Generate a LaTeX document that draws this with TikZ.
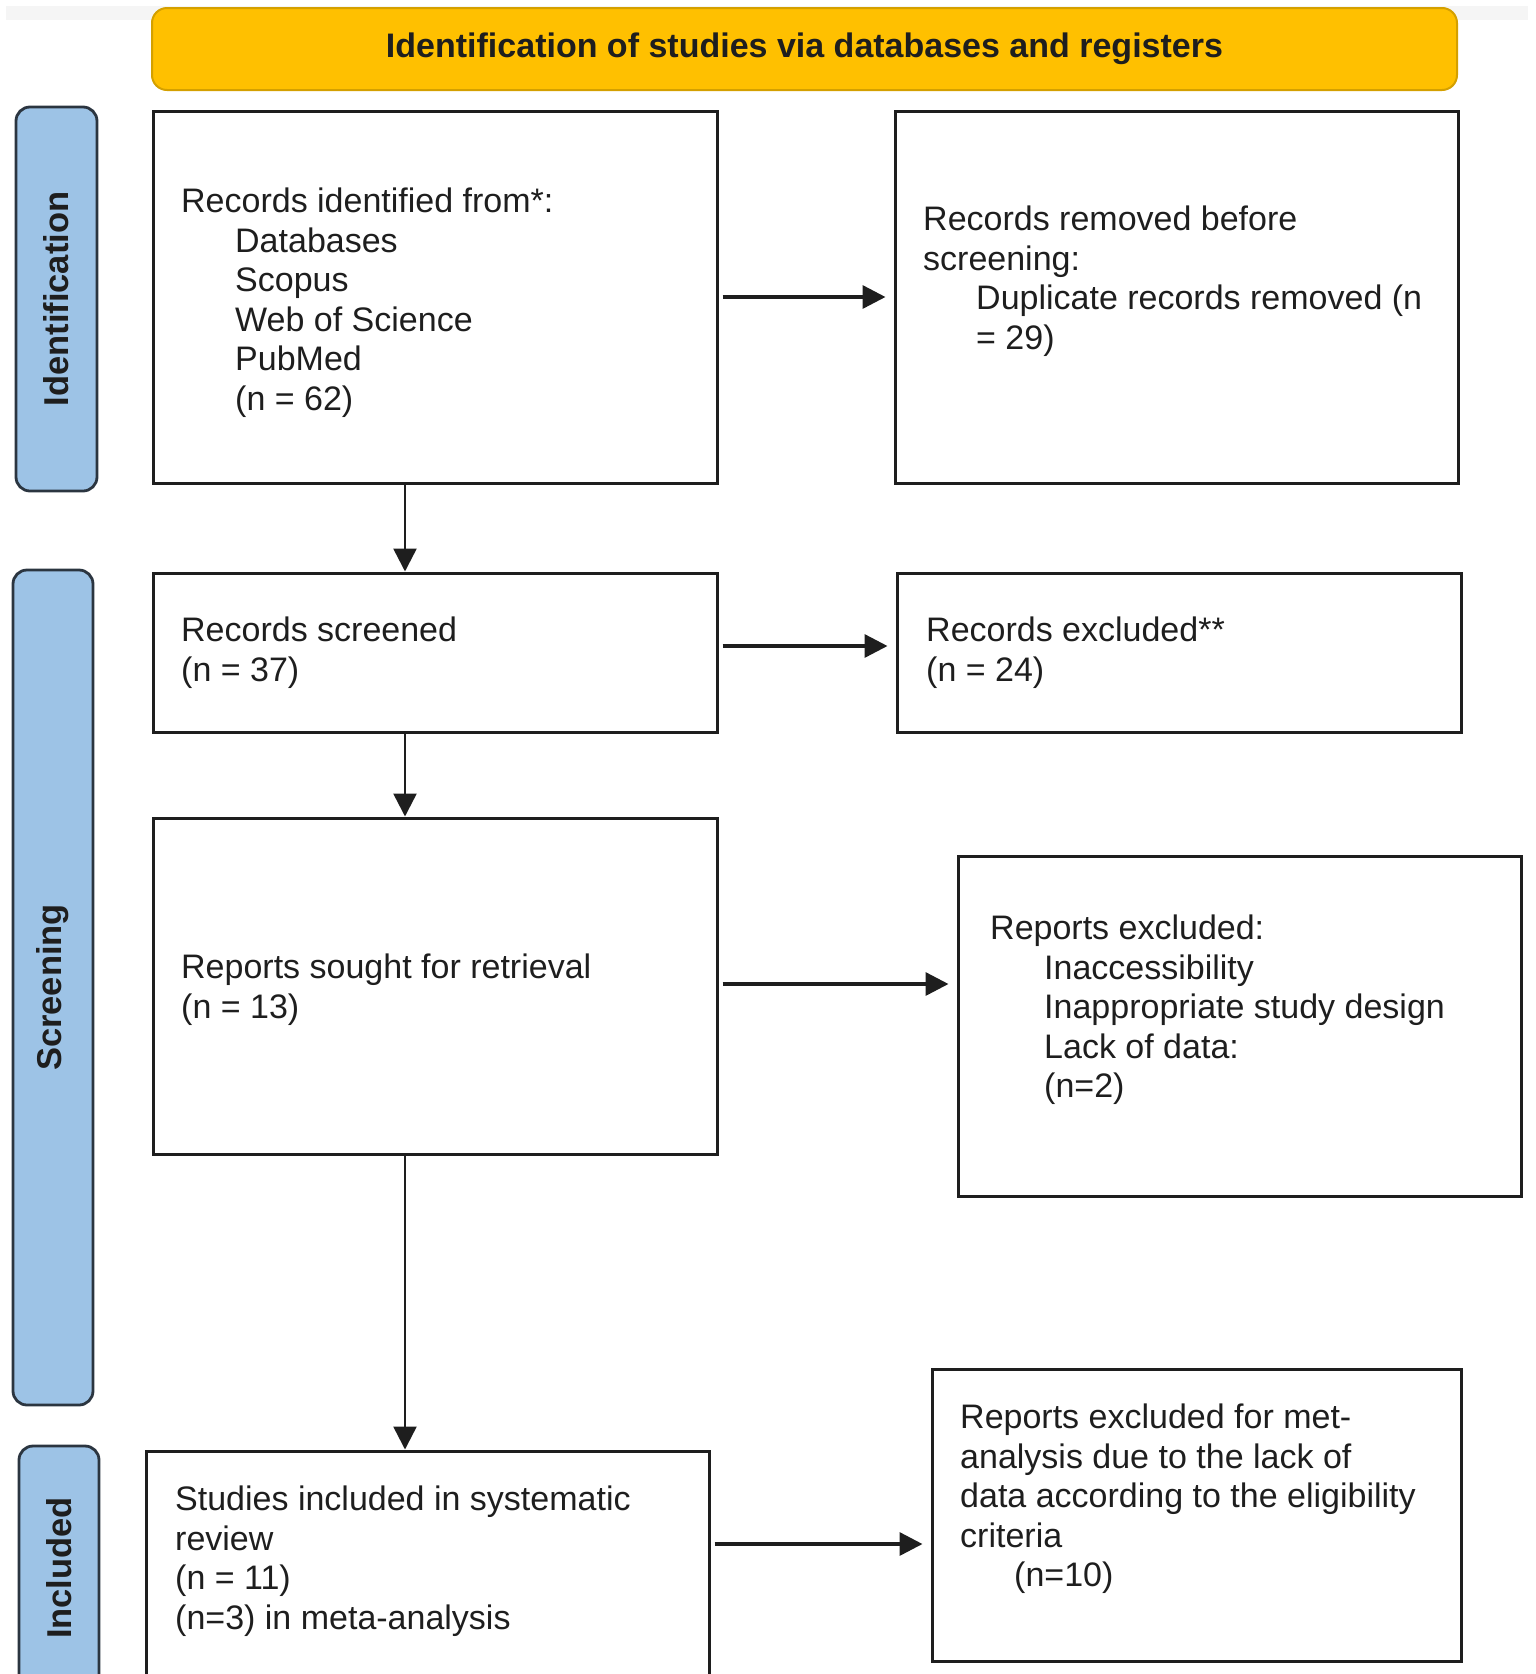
\documentclass[tikz,border=0pt]{standalone}
\usepackage{fontspec}
\setmainfont{Liberation Sans}
\usetikzlibrary{arrows.meta}
\definecolor{bannerfill}{HTML}{FFC000}
\definecolor{bannerdraw}{HTML}{D4A000}
\definecolor{barfill}{HTML}{9DC3E6}
\definecolor{bardraw}{HTML}{2B3540}
\definecolor{stripgray}{HTML}{F5F5F5}
\definecolor{ink}{HTML}{1E1E1E}
\begin{document}
\begin{tikzpicture}[x=1pt,y=-1pt,
  box/.style={draw=ink, line width=3pt, rectangle, inner sep=0pt},
  sidebar/.style={draw=bardraw, fill=barfill, line width=2.8pt, rounded corners=14pt, inner sep=0pt,
    font=\fontsize{34.5}{39}\selectfont\bfseries, text=ink},
  banner/.style={draw=bannerdraw, fill=bannerfill, line width=2pt, rounded corners=15pt, inner sep=0pt,
    font=\fontsize{34}{39}\selectfont\bfseries, text=ink},
  txt/.style={anchor=north west, inner sep=0pt, align=left, text=ink,
    font=\fontsize{34}{39.5}\selectfont},
  harr/.style={draw=ink, line width=3.4pt, -{Triangle[length=23pt,width=23pt]}, shorten >=8pt, shorten <=4pt},
  varr/.style={draw=ink, line width=2.5pt, -{Triangle[length=23pt,width=23pt]}}
]
\useasboundingbox (0,0) rectangle (1535,1674);
\clip (0,0) rectangle (1535,1674);
\fill[stripgray] (6,6) rectangle (1528,20);

% banner
\node[banner, minimum width=1305pt, minimum height=82pt] (ban) at (804.5,49) {Identification of studies via databases and registers};

% side bars
\node[sidebar, rotate=90, minimum width=384pt, minimum height=81pt] (s1) at (56.5,299) {Identification};
\node[sidebar, rotate=90, minimum width=835pt, minimum height=80pt] (s2) at (53,987.5) {Screening};
\node[sidebar, rotate=90, minimum width=244pt, minimum height=80pt] (s3) at (59,1568) {Included};

% boxes
\node[box, minimum width=564pt, minimum height=372pt] (b1) at (435,297) {};
\node[box, minimum width=563pt, minimum height=372pt] (b2) at (1176.5,297) {};
\node[box, minimum width=564pt, minimum height=159pt] (b3) at (435,652.5) {};
\node[box, minimum width=564pt, minimum height=159pt] (b4) at (1179,652.5) {};
\node[box, minimum width=564pt, minimum height=336pt] (b5) at (435,986) {};
\node[box, minimum width=563pt, minimum height=340pt] (b6) at (1239.5,1026) {};
\node[box, minimum width=563pt, minimum height=300pt] (b7) at (427.5,1601) {};
\node[box, minimum width=529pt, minimum height=292pt] (b8) at (1196.5,1515) {};

% texts
\node[txt] (t1) at (181,188) {Records identified from*:\\
  \hspace*{54pt}Databases\\ \hspace*{54pt}Scopus\\ \hspace*{54pt}Web of Science\\
  \hspace*{54pt}PubMed\\ \hspace*{54pt}(n = 62)};
\node[txt] (t2) at (923,206) {Records removed before\\ screening:\\
  \hspace*{53pt}Duplicate records removed (n\\ \hspace*{53pt}= 29)};
\node[txt] (t3) at (181,617) {Records screened\\ (n = 37)};
\node[txt] (t4) at (926,617) {Records excluded**\\ (n = 24)};
\node[txt] (t5) at (181,954) {Reports sought for retrieval\\ (n = 13)};
\node[txt] (t6) at (990,915) {Reports excluded:\\
  \hspace*{54pt}Inaccessibility\\ \hspace*{54pt}Inappropriate study design\\
  \hspace*{54pt}Lack of data:\\ \hspace*{54pt}(n=2)};
\node[txt] (t7) at (175,1486) {Studies included in systematic\\ review\\ (n = 11)\\ (n=3) in meta-analysis};
\node[txt] (t8) at (960,1404) {Reports excluded for met-\\ analysis due to the lack of\\
  data according to the eligibility\\ criteria\\ \hspace*{54pt}(n=10)};

% connector helpers
\coordinate (vx) at (405,0);
\coordinate (h3) at (0,646);
\coordinate (h5) at (0,984);
\coordinate (h7) at (0,1544);

% arrows
\draw[harr] (b1.east) -- (b2.west);
\draw[harr] (b3.east |- h3) -- (b4.west |- h3);
\draw[harr] (b5.east |- h5) -- (b6.west |- h5);
\draw[harr] (b7.east |- h7) -- (b8.west |- h7);
\draw[varr] (b1.south -| vx) -- (b3.north -| vx);
\draw[varr] (b3.south -| vx) -- (b5.north -| vx);
\draw[varr] (b5.south -| vx) -- (b7.north -| vx);
\end{tikzpicture}
\end{document}
